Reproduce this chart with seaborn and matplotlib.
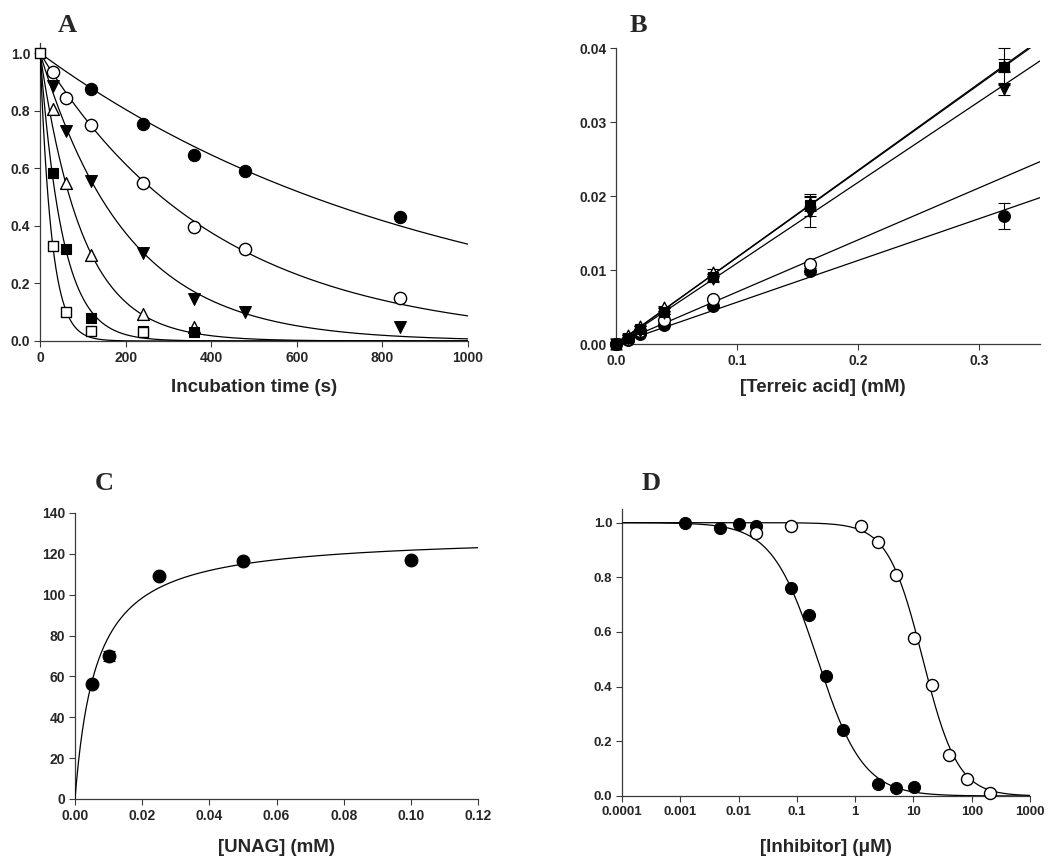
import numpy as np
import pandas as pd
import matplotlib
matplotlib.use("Agg")
import matplotlib.pyplot as plt
import seaborn as sns
from matplotlib.ticker import FixedLocator, FuncFormatter, NullLocator

# ---------------- data ----------------
# Panel A: residual activity vs incubation time
a_time_fc = [120, 240, 360, 480, 840]
a_fc = [0.875, 0.755, 0.645, 0.59, 0.43]
a_time_oc = [30, 60, 120, 240, 360, 480, 840]
a_oc = [0.935, 0.845, 0.75, 0.55, 0.395, 0.32, 0.15]
a_time_dt = [30, 60, 120, 240, 360, 480, 840]
a_dt = [0.885, 0.73, 0.555, 0.305, 0.145, 0.10, 0.05]
a_time_ut = [30, 60, 120, 240, 360]
a_ut = [0.805, 0.55, 0.30, 0.095, 0.05]
a_time_fs = [30, 60, 120, 240, 360]
a_fs = [0.585, 0.32, 0.08, 0.035, 0.03]
a_time_os = [0, 30, 60, 120, 240]
a_os = [1.0, 0.33, 0.10, 0.035, 0.03]
a_rates = [0.00109, 0.00244, 0.0049, 0.0100, 0.019, 0.037]   # fitted k (1/s)

# Panel B: k_obs vs [terreic acid]
b_conc = [0.0, 0.01, 0.02, 0.04, 0.08, 0.16, 0.32]
b_fs = [0.0, 0.0008, 0.0020, 0.0043, 0.0090, 0.0188, 0.0375]
b_fs_err = [0, 0, 0, 0.0002, 0.0005, 0.0015, 0.0025]
b_ut = [0.0, 0.0012, 0.0025, 0.0050, 0.0097, 0.0190, 0.0376]
b_ut_err = [0, 0, 0, 0.0002, 0.0005, 0.0010, 0.0009]
b_dt = [0.0, 0.0007, 0.0017, 0.0042, 0.0088, 0.0178, 0.0345]
b_dt_err = [0, 0, 0, 0.0002, 0.0004, 0.0020, 0.0008]
b_conc_oc = [0.0, 0.01, 0.02, 0.04, 0.08, 0.16]
b_oc = [0.0, 0.0007, 0.0017, 0.0033, 0.0061, 0.0108]
b_fc = [0.0, 0.0006, 0.0013, 0.0026, 0.0051, 0.0099, 0.0173]
b_fc_err = [0, 0, 0, 0.0001, 0.0002, 0.0004, 0.0017]
b_slopes = [0.117, 0.1175, 0.1093, 0.0704, 0.0565]  # fs, ut, dt, oc, fc

# Panel C: Michaelis-Menten
c_unag = [0.005, 0.01, 0.025, 0.05, 0.10]
c_rate = [56.5, 70.0, 109.0, 116.5, 117.0]
c_err = [0.0, 2.5, 0.0, 0.0, 0.0]
c_vmax, c_km = 129.5, 0.00632

# Panel D: dose-response
d_conc_fc = [0.00122, 0.00485, 0.01, 0.02, 0.08, 0.16, 0.314, 0.63, 2.5, 5.0, 10.2]
d_fc = [1.0, 0.979, 0.995, 0.989, 0.762, 0.664, 0.44, 0.24, 0.043, 0.029, 0.033]
d_conc_oc = [0.02, 0.08, 1.27, 2.5, 5.0, 10.2, 20.6, 41.4, 82.0, 206.0]
d_oc = [0.963, 0.988, 0.988, 0.93, 0.808, 0.579, 0.405, 0.151, 0.061, 0.011]
d_ic50 = [0.226, 14.5]
d_hill = [1.11, 1.45]

# ---------------- style ----------------
sns.set_theme(style="ticks")
plt.rcParams["font.family"] = ["Liberation Sans", "DejaVu Sans"]
plt.rcParams["font.weight"] = "bold"

W, H = 1050, 867
fig = plt.figure(figsize=(W / 100, H / 100), dpi=100)


def axes_px(left, right, top, bottom):
    return fig.add_axes([left / W, 1 - bottom / H, (right - left) / W, (bottom - top) / H])


axA = axes_px(40, 468, 43, 341)
axB = axes_px(616, 1040, 48, 344)
axC = axes_px(75, 478, 513, 799)
axD = axes_px(622, 1030, 509, 796)

SPINE = "#3a3a3a"
for ax in (axA, axB, axC, axD):
    sns.despine(ax=ax)
    for s in ("left", "bottom"):
        ax.spines[s].set_color(SPINE)
        ax.spines[s].set_linewidth(0.9)
    ax.tick_params(direction="out", length=4, width=0.8, color=SPINE, pad=3)
    ax.set_facecolor("white")

LW = 0.9


def pts(ax, x, y, marker, filled, s=72):
    if filled:
        sns.scatterplot(x=x, y=y, marker=marker, s=s, color="black",
                        edgecolor="black", linewidth=0.8, ax=ax, zorder=4,
                        clip_on=False)
    else:
        sns.scatterplot(x=x, y=y, marker=marker, s=s, color="white",
                        edgecolor="black", linewidth=1.0, ax=ax, zorder=4,
                        clip_on=False)


def curve(ax, x, y):
    sns.lineplot(x=x, y=y, color="black", linewidth=LW, ax=ax, zorder=3,
                 estimator=None, sort=False)


# ---------------- Panel A ----------------
t = np.linspace(0, 1000, 800)
for k in a_rates:
    curve(axA, t, np.exp(-k * t))
pts(axA, a_time_fc, a_fc, "o", True, 78)
pts(axA, a_time_oc, a_oc, "o", False, 78)
pts(axA, a_time_dt, a_dt, "v", True, 72)
pts(axA, a_time_ut, a_ut, "^", False, 72)
pts(axA, a_time_fs, a_fs, "s", True, 58)
pts(axA, a_time_os, a_os, "s", False, 58)
axA.set_xlim(0, 1000)
axA.set_ylim(0, 1.035)
axA.set_xticks([0, 200, 400, 600, 800, 1000])
axA.set_yticks([0, 0.2, 0.4, 0.6, 0.8, 1.0])
axA.yaxis.set_major_formatter(FuncFormatter(lambda v, p: f"{v:.1f}"))

# ---------------- Panel B ----------------
xl = np.linspace(0, 0.35, 50)
for sl in b_slopes:
    curve(axB, xl, sl * xl)
for y, e in ((b_fs, b_fs_err), (b_ut, b_ut_err), (b_dt, b_dt_err), (b_fc, b_fc_err)):
    axB.errorbar(b_conc, y, yerr=e, fmt="none", ecolor="black", elinewidth=0.8,
                 capsize=4, capthick=0.8, zorder=2, clip_on=False)
pts(axB, b_conc, b_fc, "o", True)
pts(axB, b_conc_oc, b_oc, "o", False)
pts(axB, b_conc, b_ut, "^", False, 60)
pts(axB, b_conc, b_dt, "v", True, 65)
pts(axB, b_conc, b_fs, "s", True, 60)
axB.set_xlim(0, 0.35)
axB.set_ylim(0, 0.04)
axB.set_xticks([0.0, 0.1, 0.2, 0.3])
axB.set_yticks([0.0, 0.01, 0.02, 0.03, 0.04])
axB.xaxis.set_major_formatter(FuncFormatter(lambda v, p: f"{v:.1f}"))
axB.yaxis.set_major_formatter(FuncFormatter(lambda v, p: f"{v:.2f}"))

# ---------------- Panel C ----------------
xc = np.linspace(0, 0.12, 600)
curve(axC, xc, c_vmax * xc / (c_km + xc))
axC.errorbar(c_unag, c_rate, yerr=c_err, fmt="none", ecolor="black",
             elinewidth=0.8, capsize=4, capthick=0.8, zorder=2)
pts(axC, c_unag, c_rate, "o", True, 85)
axC.set_xlim(0, 0.12)
axC.set_ylim(0, 140)
axC.set_xticks(np.arange(0, 0.121, 0.02))
axC.set_yticks(np.arange(0, 141, 20))
axC.xaxis.set_major_formatter(FuncFormatter(lambda v, p: f"{v:.2f}"))

# ---------------- Panel D ----------------
axD.set_xscale("log")
xd = np.logspace(-4, 3, 700)
for ic, h in zip(d_ic50, d_hill):
    curve(axD, xd, 1.0 / (1.0 + (xd / ic) ** h))
pts(axD, d_conc_fc, d_fc, "o", True, 75)
pts(axD, d_conc_oc, d_oc, "o", False, 75)
axD.set_xlim(1e-4, 1e3)
axD.set_ylim(0, 1.05)
dticks = [1e-4, 1e-3, 1e-2, 1e-1, 1, 10, 100, 1000]
dlabels = ["0.0001", "0.001", "0.01", "0.1", "1", "10", "100", "1000"]
axD.xaxis.set_major_locator(FixedLocator(dticks))
axD.xaxis.set_minor_locator(NullLocator())
axD.set_xticks(dticks)
axD.set_xticklabels(dlabels)
axD.set_yticks([0, 0.2, 0.4, 0.6, 0.8, 1.0])
axD.yaxis.set_major_formatter(FuncFormatter(lambda v, p: f"{v:.1f}"))

for ax, fs in ((axA, 10), (axB, 10), (axC, 10), (axD, 9.5)):
    ax.set_xlabel("")
    ax.set_ylabel("")
    for lab in ax.get_xticklabels() + ax.get_yticklabels():
        lab.set_fontweight("bold")
        lab.set_fontsize(fs)

# ---------------- texts ----------------
def ftext(x, y, s, **kw):
    fig.text(x / W, 1 - y / H, s, ha="center", va="center", **kw)


serif = ["Liberation Serif", "DejaVu Serif"]
for letter, (x, y) in zip("ABCD", [(67, 26), (638, 25), (104, 483), (651, 483)]):
    ftext(x, y, letter, family=serif, fontweight="bold", fontsize=19)

lab_kw = dict(fontweight="bold", fontsize=13.5)
ftext(254, 388, "Incubation time (s)", **lab_kw)
ftext(823, 388, "[Terreic acid] (mM)", **lab_kw)
ftext(277, 848, "[UNAG] (mM)", **lab_kw)
ftext(826, 847, "[Inhibitor] (\u03bcM)", **lab_kw)

fig.savefig("out.png", dpi=100, facecolor="white")
